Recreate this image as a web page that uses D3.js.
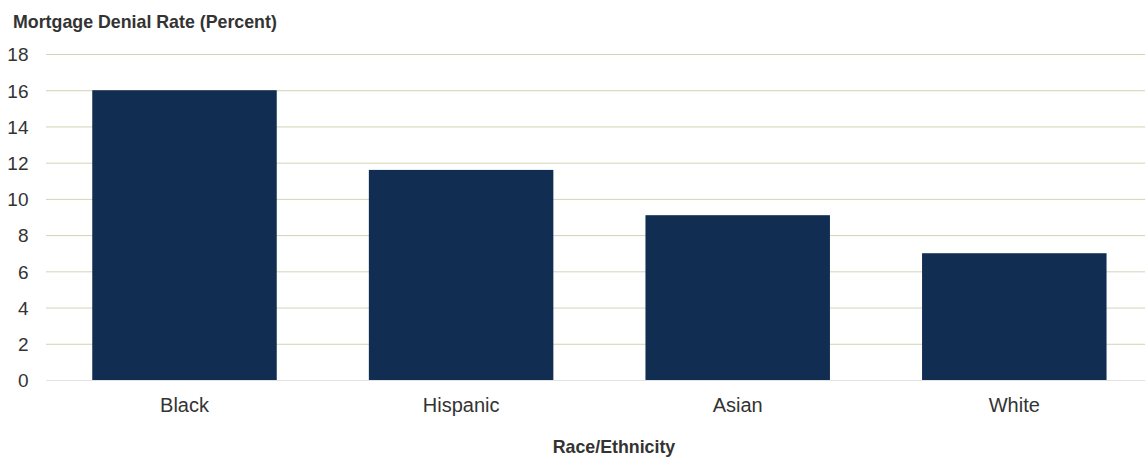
<!DOCTYPE html>
<html><head><meta charset="utf-8">
<script src="https://cdn.jsdelivr.net/npm/d3@7"></script>
<style>body{margin:0;background:#fff}svg{display:block;font-family:"Liberation Sans",Arial,sans-serif}</style>
</head><body><svg id="c" width="1145" height="458"></svg>
<script>
const categories = ["Black","Hispanic","Asian","White"];
const values = [16.0,11.6,9.1,7.0];
const yTicks = [0,2,4,6,8,10,12,14,16,18];

const svg = d3.select("#c");
const x = d3.scaleBand().domain(categories).range([46.2,1152.6]).paddingInner(0.333).paddingOuter(0.1665);
const y = d3.scaleLinear().domain([0,18]).range([380,54]);

// gridlines
svg.append("g").selectAll("line").data(yTicks).join("line")
  .attr("x1",46).attr("x2",1145)
  .attr("y1",d=>y(d)+0.5).attr("y2",d=>y(d)+0.5)
  .attr("stroke",d=>d===0?"#e3e3e3":"#d3d3b5").attr("stroke-width",1);

// y axis labels
const ya = svg.append("g").attr("transform","translate(28.5,0)")
  .call(d3.axisLeft(y).tickValues(yTicks).tickSize(0).tickPadding(0));
ya.select(".domain").remove();
ya.selectAll("text").attr("font-size",19).attr("fill","#333").attr("font-family","Liberation Sans, Arial, sans-serif").attr("dy","0.36em");

// bars
svg.append("g").selectAll("rect").data(values).join("rect")
  .attr("x",(d,i)=>x(categories[i]))
  .attr("width",x.bandwidth())
  .attr("y",d=>y(d))
  .attr("height",d=>y(0)-y(d))
  .attr("fill","#112d52");

// x axis labels
const xa = svg.append("g").attr("transform","translate(0,412)")
  .call(d3.axisBottom(x).tickSize(0).tickPadding(0));
xa.select(".domain").remove();
xa.selectAll("text").attr("font-size",20).attr("fill","#333").attr("dy",0).attr("font-family","Liberation Sans, Arial, sans-serif");

svg.append("text").attr("x",13).attr("y",27.5).attr("font-size",17.8).attr("font-weight","bold").attr("fill","#333")
  .text("Mortgage Denial Rate (Percent)");
svg.append("text").attr("x",614).attr("y",453).attr("text-anchor","middle").attr("font-size",17.8).attr("font-weight","bold").attr("fill","#333")
  .text("Race/Ethnicity");
</script></body></html>
